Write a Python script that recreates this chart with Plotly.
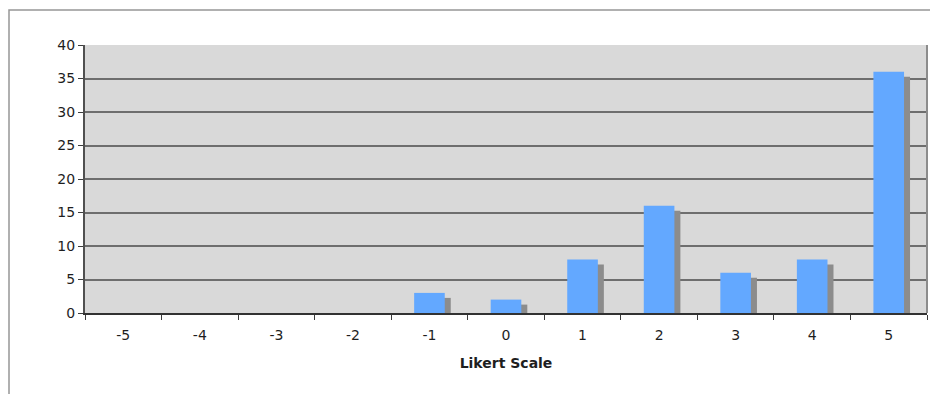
# Likert scale response histogram (Excel-style column chart)
import plotly.graph_objects as go

# ----------------------------------------------------------------------------------------------------------------------
# Data
# ----------------------------------------------------------------------------------------------------------------------
likert_labels = ["-5", "-4", "-3", "-2", "-1", "0", "1", "2", "3", "4", "5"]
counts = [0, 0, 0, 0, 3, 2, 8, 16, 6, 8, 36]
y_ticks = [0, 5, 10, 15, 20, 25, 30, 35, 40]

# ----------------------------------------------------------------------------------------------------------------------
# Layout geometry (px, window coordinates; page body adds an 8px margin)
# ----------------------------------------------------------------------------------------------------------------------
page_off = 8
W, H = 938 - page_off, 394 - page_off
plot_x0, plot_x1 = 85, 927
plot_y0, plot_y1 = 45, 313
ml = plot_x0 - page_off
mr = W - (plot_x1 - page_off)
mt = plot_y0 - page_off
mb = H - (plot_y1 - page_off)
plot_w = plot_x1 - plot_x0
plot_h = plot_y1 - plot_y0
y_max = 40

# Drop shadow offset: a few px right and down
shadow_dx = 6 / (plot_w / len(likert_labels))
shadow_dy = 5 / (plot_h / y_max)
shadow_vals = [max(v - shadow_dy, 0) if v > 0 else 0 for v in counts]

fig = go.Figure()

# Shadow first so the blue column sits on top
fig.add_trace(go.Bar(x=likert_labels, y=shadow_vals, width=0.4, offset=-0.2 + shadow_dx,
                     marker_color='rgb(140,140,140)', marker_line_width=0,
                     showlegend=False, hoverinfo='skip'))
fig.add_trace(go.Bar(x=likert_labels, y=counts, width=0.4, offset=-0.2,
                     marker_color='rgb(99,168,255)', marker_line_width=0,
                     showlegend=False))

fig.update_layout(width=W, height=H, margin=dict(l=ml, r=mr, t=mt, b=mb),
                  barmode='overlay', plot_bgcolor='rgb(217,217,217)', paper_bgcolor='white',
                  font=dict(family='DejaVu Sans, Verdana, sans-serif', size=14, color='rgb(30,30,30)'))

fig.update_xaxes(type='category', tickson='boundaries', ticks='outside', ticklen=5,
                 tickcolor='rgb(60,60,60)', showline=True, linewidth=2, linecolor='rgb(50,50,50)',
                 showgrid=False, ticklabelstandoff=8,
                 title_text='<b>Likert Scale</b>', title_font=dict(size=14), title_standoff=16)
fig.update_yaxes(range=[0, y_max], tickvals=y_ticks, ticks='outside', ticklen=5,
                 tickcolor='rgb(60,60,60)', showline=True, linewidth=2, linecolor='rgb(80,80,80)',
                 showgrid=True, gridcolor='rgb(110,110,110)', gridwidth=1.5, zeroline=False)

# Right border of the plot area
fig.add_shape(type='line', xref='paper', yref='paper', x0=1, x1=1, y0=0, y1=1,
              line=dict(color='rgb(140,140,140)', width=2))

# Outer chart frame (top and left edges visible)
fx = (page_off + 1 - plot_x0) / plot_w
fy_top = 1 + (plot_y0 - 10) / plot_h
fy_bot = -(mb + 5) / plot_h
fx_right = (W + 5 - ml) / plot_w
fig.add_shape(type='path', xref='paper', yref='paper',
              path=f'M {fx} {fy_bot} L {fx} {fy_top} L {fx_right} {fy_top}',
              line=dict(color='rgb(150,150,150)', width=1.5))

fig.write_html("out.html")
